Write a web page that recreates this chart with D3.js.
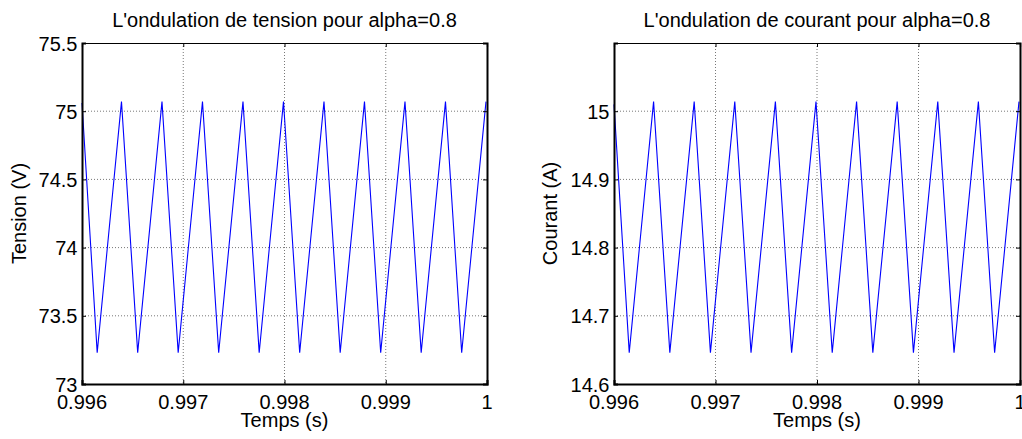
<!DOCTYPE html>
<html>
    <head>
        <meta charset="utf-8">
        <title>Ondulation alpha=0.8</title>
        <script src="https://cdn.jsdelivr.net/npm/d3@7"></script>
    </head>

    <style>
        body {
            margin: 0;
            background: #fff;
        }
        svg text {
            font-family: "Liberation Sans", Arial, sans-serif;
            fill: #000;
        }
        .grid line {
            stroke: #777;
            stroke-width: 1;
            stroke-dasharray: 1,2;
        }
    </style>

    <body>
    <div id="chart"></div>
        <script>
            (function(d3) {
                'use strict';

                // sommets de la courbe (temps en s)
                var temps = [0.996, 0.99615, 0.99639, 0.99655, 0.99679, 0.99695, 0.99719,
                             0.99735, 0.99759, 0.99775, 0.99799, 0.99815, 0.99839, 0.99855,
                             0.99879, 0.99895, 0.99919, 0.99935, 0.99959, 0.99975, 0.99999];
                var tension = [75.06, 73.23, 75.07, 73.23, 75.07, 73.23, 75.07,
                               73.23, 75.07, 73.23, 75.07, 73.23, 75.07, 73.23,
                               75.07, 73.23, 75.07, 73.23, 75.07, 73.23, 75.07];
                var courant = [15.01, 14.646, 15.014, 14.646, 15.014, 14.646, 15.014,
                               14.646, 15.014, 14.646, 15.014, 14.646, 15.014, 14.646,
                               15.014, 14.646, 15.014, 14.646, 15.014, 14.646, 15.014];

                var xTicks = [0.996, 0.997, 0.998, 0.999, 1];
                var xTickLabels = ['0.996', '0.997', '0.998', '0.999', '1'];
                var yTicksV = [73, 73.5, 74, 74.5, 75, 75.5];
                var yTickLabelsV = ['73', '73.5', '74', '74.5', '75', '75.5'];
                var yTicksA = [14.6, 14.7, 14.8, 14.9, 15];
                var yTickLabelsA = ['14.6', '14.7', '14.8', '14.9', '15'];

                var width = 1022;
                var height = 439;

                var svg = d3.select('#chart')
                    .append('svg')
                    .attr('width', width)
                    .attr('height', height);

                svg.append('rect')
                    .attr('width', width)
                    .attr('height', height)
                    .attr('fill', '#fff');

                function drawPanel(opt) {
                    var x = d3.scaleLinear().domain([0.996, 1]).range([opt.left, opt.right]);
                    var y = d3.scaleLinear().domain(opt.yDomain).range([opt.bottom, opt.top]);
                    var g = svg.append('g');

                    // grille pointillee
                    var grid = g.append('g').attr('class', 'grid');
                    grid.selectAll('.gx')
                        .data(xTicks.slice(1, -1))
                        .enter()
                        .append('line')
                        .attr('x1', function(d) { return x(d); })
                        .attr('x2', function(d) { return x(d); })
                        .attr('y1', opt.top)
                        .attr('y2', opt.bottom);
                    grid.selectAll('.gy')
                        .data(opt.yTicks.filter(function(d) {
                            return y(d) > opt.top + 1 && y(d) < opt.bottom - 1;
                        }))
                        .enter()
                        .append('line')
                        .attr('x1', opt.left)
                        .attr('x2', opt.right)
                        .attr('y1', function(d) { return y(d); })
                        .attr('y2', function(d) { return y(d); });

                    // courbe
                    var line = d3.line()
                        .x(function(d, i) { return x(temps[i]); })
                        .y(function(d) { return y(d); });
                    g.append('path')
                        .datum(opt.values)
                        .attr('d', line)
                        .attr('fill', 'none')
                        .attr('stroke', '#0000ff')
                        .attr('stroke-width', 1.1);

                    // cadre et graduations (axes d3, tick vers l'interieur)
                    var tl = 4;
                    g.append('g')
                        .attr('transform', 'translate(0,' + opt.bottom + ')')
                        .call(d3.axisBottom(x).tickValues(xTicks).tickSize(-tl).tickFormat(''))
                        .call(styleAxis, 2);
                    g.append('g')
                        .attr('transform', 'translate(0,' + opt.top + ')')
                        .call(d3.axisTop(x).tickValues(xTicks).tickSize(-tl).tickFormat(''))
                        .call(styleAxis, 1.2);
                    g.append('g')
                        .attr('transform', 'translate(' + opt.left + ',0)')
                        .call(d3.axisLeft(y).tickValues(opt.yTicks).tickSize(-tl).tickFormat(''))
                        .call(styleAxis, 2);
                    g.append('g')
                        .attr('transform', 'translate(' + opt.right + ',0)')
                        .call(d3.axisRight(y).tickValues(opt.yTicks).tickSize(-tl).tickFormat(''))
                        .call(styleAxis, 2);

                    // etiquettes
                    g.selectAll('.xl')
                        .data(xTicks)
                        .enter()
                        .append('text')
                        .attr('x', function(d) { return x(d); })
                        .attr('y', opt.bottom + 24.5)
                        .attr('text-anchor', 'middle')
                        .style('font-size', '20px')
                        .text(function(d, i) { return xTickLabels[i]; });
                    g.selectAll('.yl')
                        .data(opt.yTicks)
                        .enter()
                        .append('text')
                        .attr('x', opt.left - 4.5)
                        .attr('y', function(d) { return y(d) + 7.5; })
                        .attr('text-anchor', 'end')
                        .style('font-size', '20px')
                        .text(function(d, i) { return opt.yTickLabels[i]; });

                    var cx = (opt.left + opt.right) / 2;
                    g.append('text')
                        .attr('x', cx)
                        .attr('y', 27)
                        .attr('text-anchor', 'middle')
                        .style('font-size', '20px')
                        .text(opt.title);
                    g.append('text')
                        .attr('x', cx)
                        .attr('y', 427)
                        .attr('text-anchor', 'middle')
                        .style('font-size', '20px')
                        .text('Temps (s)');
                    g.append('text')
                        .attr('transform', 'translate(' + opt.yLabelX + ',' + ((opt.top + opt.bottom) / 2) + ') rotate(-90)')
                        .attr('text-anchor', 'middle')
                        .style('font-size', '20px')
                        .text(opt.yLabel);
                }

                function styleAxis(sel, w) {
                    sel.select('.domain')
                        .attr('stroke', '#000')
                        .attr('stroke-width', w);
                    sel.selectAll('.tick line')
                        .attr('stroke', '#000')
                        .attr('stroke-width', 1);
                }

                drawPanel({
                    left: 82, right: 487, top: 43, bottom: 384,
                    yDomain: [73, 75.5],
                    yTicks: yTicksV,
                    yTickLabels: yTickLabelsV,
                    values: tension,
                    title: "L'ondulation de tension pour alpha=0.8",
                    yLabel: 'Tension (V)',
                    yLabelX: 26
                });

                drawPanel({
                    left: 614, right: 1020, top: 43, bottom: 384,
                    yDomain: [14.6, 15.1],
                    yTicks: yTicksA,
                    yTickLabels: yTickLabelsA,
                    values: courant,
                    title: "L'ondulation de courant pour alpha=0.8",
                    yLabel: 'Courant (A)',
                    yLabelX: 557
                });

            })(window.d3);
        </script>
    </body>
</html>
